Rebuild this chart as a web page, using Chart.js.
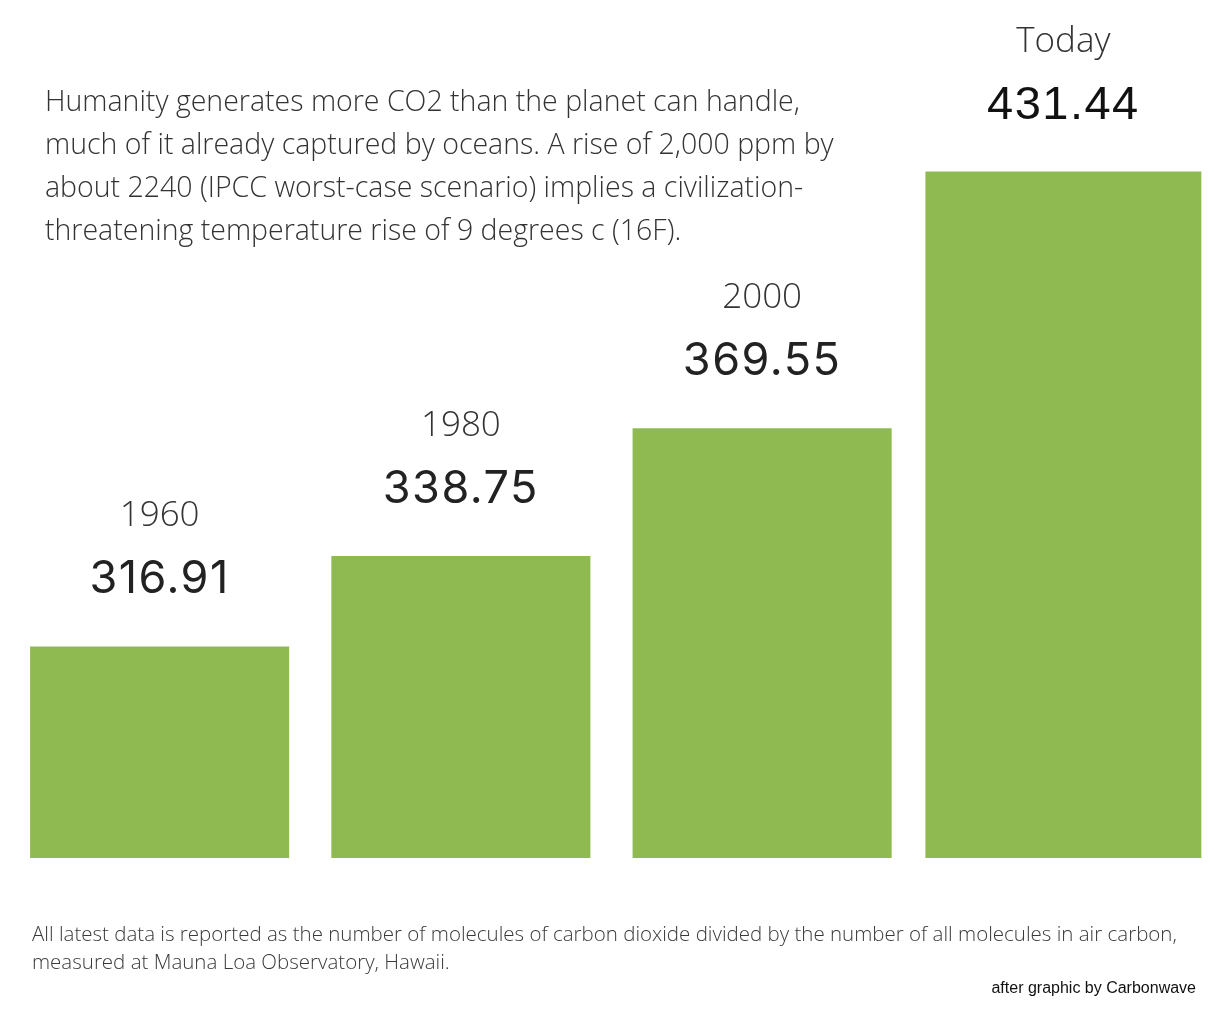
<!DOCTYPE html>
<html>
<head>
<meta charset="utf-8">
<script src="https://cdn.jsdelivr.net/npm/chart.js@4/dist/chart.umd.min.js"></script>
<style>
  html, body { margin: 0; padding: 0; background: #fff; }
  #wrap { position: relative; width: 1220px; height: 1020px; overflow: hidden; }
  #c { position: absolute; left: 0; top: 0; }
  .txt { position: absolute; white-space: nowrap; font-family: "Open Sans", sans-serif; color: #333; }
  #intro { left: 45px; top: 79px; font-size: 28.5px; line-height: 43px; font-weight: 300; color: #333; }
  #note { left: 32px; top: 919px; font-size: 20.5px; line-height: 28px; font-weight: 300; color: #3a3a3a; }
  #credit { right: 24px; top: 979px; font-family: "Liberation Sans", Arial, sans-serif; font-size: 16px; line-height: 17px; color: #111; }
</style>
</head>
<body>
<div id="wrap">
  <canvas id="c" width="1220" height="1020"></canvas>
  <div class="txt" id="intro">Humanity generates more CO2 than the planet can handle,<br>much of it already captured by oceans. A rise of 2,000 ppm by<br>about 2240 (IPCC worst-case scenario) implies a civilization-<br>threatening temperature rise of 9 degrees c (16F).</div>
  <div class="txt" id="note">All latest data is reported as the number of molecules of carbon dioxide divided by the number of all molecules in air carbon,<br>measured at Mauna Loa Observatory, Hawaii.</div>
  <div class="txt" id="credit">after graphic by Carbonwave</div>
</div>
<script>
const categories = ['1960', '1980', '2000', 'Today'];
const co2ppm = [316.91, 338.75, 369.55, 431.44];
const valueLabels = ['316.91', '338.75', '369.55', '431.44'];
const highlightIndex = 3; // "Today" bar drawn wider

const barColor = '#8fba52';

const pastValues = co2ppm.map((v, i) => i === highlightIndex ? null : v);
const todayValues = co2ppm.map((v, i) => i === highlightIndex ? v : null);

const labelPlugin = {
  id: 'barLabels',
  afterDatasetsDraw(chart) {
    const ctx = chart.ctx;
    ctx.save();
    ctx.textAlign = 'center';
    ctx.textBaseline = 'alphabetic';
    chart.data.datasets.forEach((ds, di) => {
      const meta = chart.getDatasetMeta(di);
      meta.data.forEach((bar, i) => {
        if (ds.data[i] == null) return;
        const isToday = i === highlightIndex;
        // category label
        ctx.fillStyle = '#333';
        ctx.font = '300 35px "Open Sans"';
        ctx.letterSpacing = '0px';
        ctx.fillText(categories[i], bar.x, bar.y - 120);
        // value label
        if (isToday) {
          ctx.fillStyle = '#111';
          ctx.font = '400 47px "Liberation Sans"';
          ctx.letterSpacing = '1.5px';
        } else {
          ctx.fillStyle = '#222';
          ctx.font = '400 45px Inter';
          ctx.letterSpacing = '1.5px';
        }
        ctx.fillText(valueLabels[i], bar.x, bar.y - 53);
      });
    });
    ctx.restore();
  }
};

new Chart(document.getElementById('c'), {
  type: 'bar',
  data: {
    labels: categories,
    datasets: [
      { data: pastValues, backgroundColor: barColor, borderWidth: 0,
        barPercentage: 0.86, categoryPercentage: 1.0, grouped: false },
      { data: todayValues, backgroundColor: barColor, borderWidth: 0,
        barPercentage: 0.916, categoryPercentage: 1.0, grouped: false }
    ]
  },
  options: {
    responsive: false,
    animation: false,
    devicePixelRatio: 1,
    layout: { padding: { left: 9, right: 6, top: 100, bottom: 162 } },
    plugins: { legend: { display: false }, tooltip: { enabled: false } },
    scales: {
      x: { display: false, grid: { display: false } },
      y: { display: false, min: 265.9, max: 448.7, grid: { display: false } }
    }
  },
  plugins: [labelPlugin]
});
</script>
</body>
</html>
